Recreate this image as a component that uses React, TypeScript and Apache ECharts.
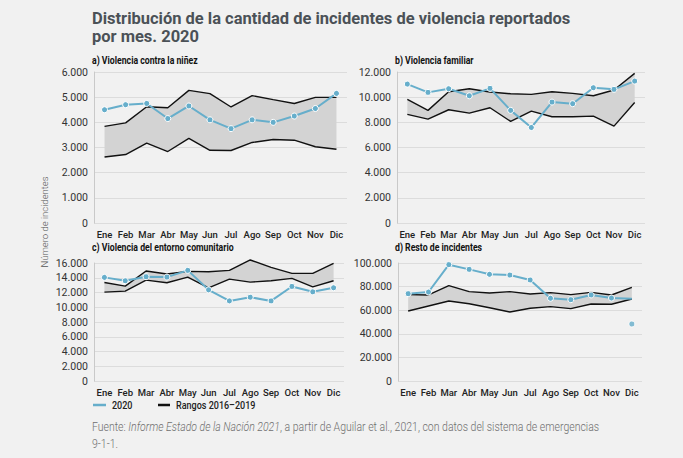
import React, { useEffect, useRef } from "react";
import * as echarts from "echarts";

const months = ["Ene", "Feb", "Mar", "Abr", "May", "Jun", "Jul", "Ago", "Sep", "Oct", "Nov", "Dic"];

// a) Violencia contra la niñez
const aY2020 = [4500, 4700, 4750, 4150, 4650, 4100, 3750, 4100, 4000, 4250, 4550, 5150];
const aMax = [3840, 3980, 4620, 4580, 5270, 5140, 4610, 5060, 4900, 4750, 4990, 4990];
const aMin = [2620, 2720, 3170, 2840, 3360, 2890, 2880, 3200, 3320, 3290, 3030, 2930];

// b) Violencia familiar
const bY2020 = [11040, 10380, 10670, 10110, 10700, 8950, 7590, 9610, 9480, 10750, 10620, 11280];
const bMax = [9820, 8950, 10430, 10670, 10410, 10270, 10220, 10430, 10300, 10110, 10570, 11890];
const bMin = [8630, 8260, 9000, 8730, 9160, 8070, 8890, 8440, 8440, 8490, 7700, 9580];

// c) Violencia del entorno comunitario
const cY2020 = [14050, 13590, 14140, 14090, 15000, 12360, 10860, 11360, 10860, 12820, 12090, 12640];
const cMax = [13360, 12860, 14910, 14500, 14860, 14820, 15000, 16410, 15410, 14590, 14590, 15950];
const cMin = [12050, 12180, 13680, 13320, 14090, 12640, 13820, 13410, 13590, 13910, 12770, 13590];

// d) Resto de incidentes
const dY2020 = [74000, 75400, 98600, 94600, 90400, 89800, 85600, 70100, 68900, 72900, 70300, 69800];
const dExtra = [null, null, null, null, null, null, null, null, null, null, null, 48300];
const dMax = [73200, 72900, 80800, 75700, 74600, 75700, 73700, 74900, 73200, 75100, 72900, 79400];
const dMin = [59300, 63600, 67800, 65500, 62100, 58500, 61600, 63000, 61300, 65300, 65000, 69500];

const yMax = [6000, 12000, 16000, 100000];
const yInterval = [1000, 2000, 2000, 20000];
const panelTitles = [
  "a) Violencia contra la niñez",
  "b) Violencia familiar",
  "c) Violencia del entorno comunitario",
  "d) Resto de incidentes",
];

const BLUE = "#66aecb";
const BAND = "#d3d3d3";
const FONT = "Roboto, 'Noto Sans', sans-serif";

const fmt = (v: number) => String(v).replace(/\B(?=(\d{3})+(?!\d))/g, ".");

export default function App() {
  const ref = useRef<HTMLDivElement>(null);
  useEffect(() => {
    if (!ref.current) return;
    const chart = echarts.init(ref.current, undefined, { renderer: "svg" });

    const grids = [
      { left: 94, top: 72, width: 253, height: 151 },
      { left: 397, top: 72, width: 248, height: 151 },
      { left: 94, top: 263, width: 250, height: 118 },
      { left: 398, top: 263, width: 244, height: 118 },
    ];
    const panels = [
      { y: aY2020, max: aMax, min: aMin },
      { y: bY2020, max: bMax, min: bMin },
      { y: cY2020, max: cMax, min: cMin },
      { y: dY2020, max: dMax, min: dMin },
    ];

    const xAxis = grids.map((_, i) => ({
      type: "category",
      gridIndex: i,
      data: months,
      boundaryGap: true,
      axisLine: { show: false },
      axisTick: { show: false },
      axisLabel: { fontSize: 9.5, fontWeight: 500, color: "#222", fontFamily: FONT, margin: 6, interval: 0 },
    }));
    const yAxis = grids.map((_, i) => ({
      type: "value",
      gridIndex: i,
      min: 0,
      max: yMax[i],
      interval: yInterval[i],
      axisLine: { show: true, lineStyle: { color: "#c9c9c9", width: 1 } },
      axisTick: { show: false },
      splitLine: { lineStyle: { color: "#dcdcdc", width: 1 } },
      axisLabel: { fontSize: 10.5, color: "#333", fontFamily: FONT, margin: 6, formatter: (v: number) => fmt(v) },
    }));

    const series: any[] = [];
    panels.forEach((p, i) => {
      const stack = "band" + i;
      series.push({
        type: "line", xAxisIndex: i, yAxisIndex: i, stack, data: p.min,
        symbol: "none", lineStyle: { width: 0, opacity: 0 }, silent: true, z: 1, clip: false,
      });
      series.push({
        type: "line", xAxisIndex: i, yAxisIndex: i, stack, data: p.max.map((v, k) => v - p.min[k]),
        symbol: "none", lineStyle: { width: 0, opacity: 0 }, areaStyle: { color: BAND, opacity: 1 },
        silent: true, z: 1, clip: false,
      });
      series.push({
        type: "line", name: "Rangos 2016–2019", xAxisIndex: i, yAxisIndex: i, data: p.max,
        symbol: "none", lineStyle: { color: "#111", width: 1.4 }, z: 2, clip: false,
      });
      series.push({
        type: "line", name: "Rangos 2016–2019", xAxisIndex: i, yAxisIndex: i, data: p.min,
        symbol: "none", lineStyle: { color: "#111", width: 1.4 }, z: 2, clip: false,
      });
      const blueData = i === 3
        ? p.y.map((v, k) => (k === 11 ? { value: v, symbol: "none" } : v))
        : p.y;
      series.push({
        type: "line", name: "2020", xAxisIndex: i, yAxisIndex: i, data: blueData,
        symbol: "circle", symbolSize: 6, showSymbol: true,
        lineStyle: { color: BLUE, width: 2 },
        itemStyle: { color: BLUE, borderColor: "#fff", borderWidth: 1 },
        z: 3, clip: false,
      });
    });
    series.push({
      type: "scatter", xAxisIndex: 3, yAxisIndex: 3, data: dExtra,
      symbol: "circle", symbolSize: 6, itemStyle: { color: BLUE, borderColor: "#fff", borderWidth: 1 }, z: 3,
    });

    const txt = (text: string, x: number, y: number, size: number, weight: any, color: string, scaleX = 1, extra: any = {}) => ({
      type: "text", x, y, scaleX, originX: 0,
      style: { text, fill: color, fontSize: size, fontWeight: weight, fontFamily: FONT, verticalAlign: "middle", align: "left", ...extra },
    });

    const panelTitlePos = [[92, 60], [395, 60], [92, 247], [395, 247]];

    const graphic: any[] = [
      txt("Distribución de la cantidad de incidentes de violencia reportados", 92, 18, 17, 700, "#4b5157", 0.97),
      txt("por mes. 2020", 92, 36, 17, 700, "#4b5157", 0.97),
      ...panelTitles.map((t, i) => txt(t, panelTitlePos[i][0], panelTitlePos[i][1], 10.5, 700, "#111", 0.83)),
      {
        type: "text", x: 44, y: 222, rotation: Math.PI / 2,
        style: { text: "Número de incidentes", fill: "#555", fontSize: 9.5, fontWeight: 300, fontFamily: FONT, align: "center", verticalAlign: "middle" },
      },
      { type: "line", shape: { x1: 93, y1: 405, x2: 106, y2: 405 }, style: { stroke: BLUE, lineWidth: 2.5 } },
      txt("2020", 112, 405, 11, 500, "#222", 0.82),
      { type: "line", shape: { x1: 158, y1: 405, x2: 170, y2: 405 }, style: { stroke: "#111", lineWidth: 2.5 } },
      txt("Rangos 2016–2019", 176, 405, 11, 500, "#222", 0.82),
      {
        type: "text", x: 92, y: 427, scaleX: 0.875, originX: 0,
        style: {
          text: "{n|Fuente: }{i|Informe Estado de la Nación 2021}{n|, a partir de Aguilar et al., 2021, con datos del sistema de emergencias}",
          verticalAlign: "middle",
          rich: {
            n: { fontSize: 12, fontWeight: 300, fill: "#6f6f6f", fontFamily: FONT },
            i: { fontSize: 12, fontWeight: 300, fontStyle: "italic", fill: "#6f6f6f", fontFamily: FONT },
          },
        },
      },
      txt("9-1-1.", 92, 444, 12, 300, "#6f6f6f", 0.875),
    ];

    chart.setOption({
      animation: false,
      backgroundColor: "#f1f1f1",
      grid: grids,
      xAxis,
      yAxis,
      series,
      graphic,
    } as any);
    return () => chart.dispose();
  }, []);

  return <div ref={ref} style={{ position: "fixed", left: 0, top: 0, width: 683, height: 458 }} />;
}
